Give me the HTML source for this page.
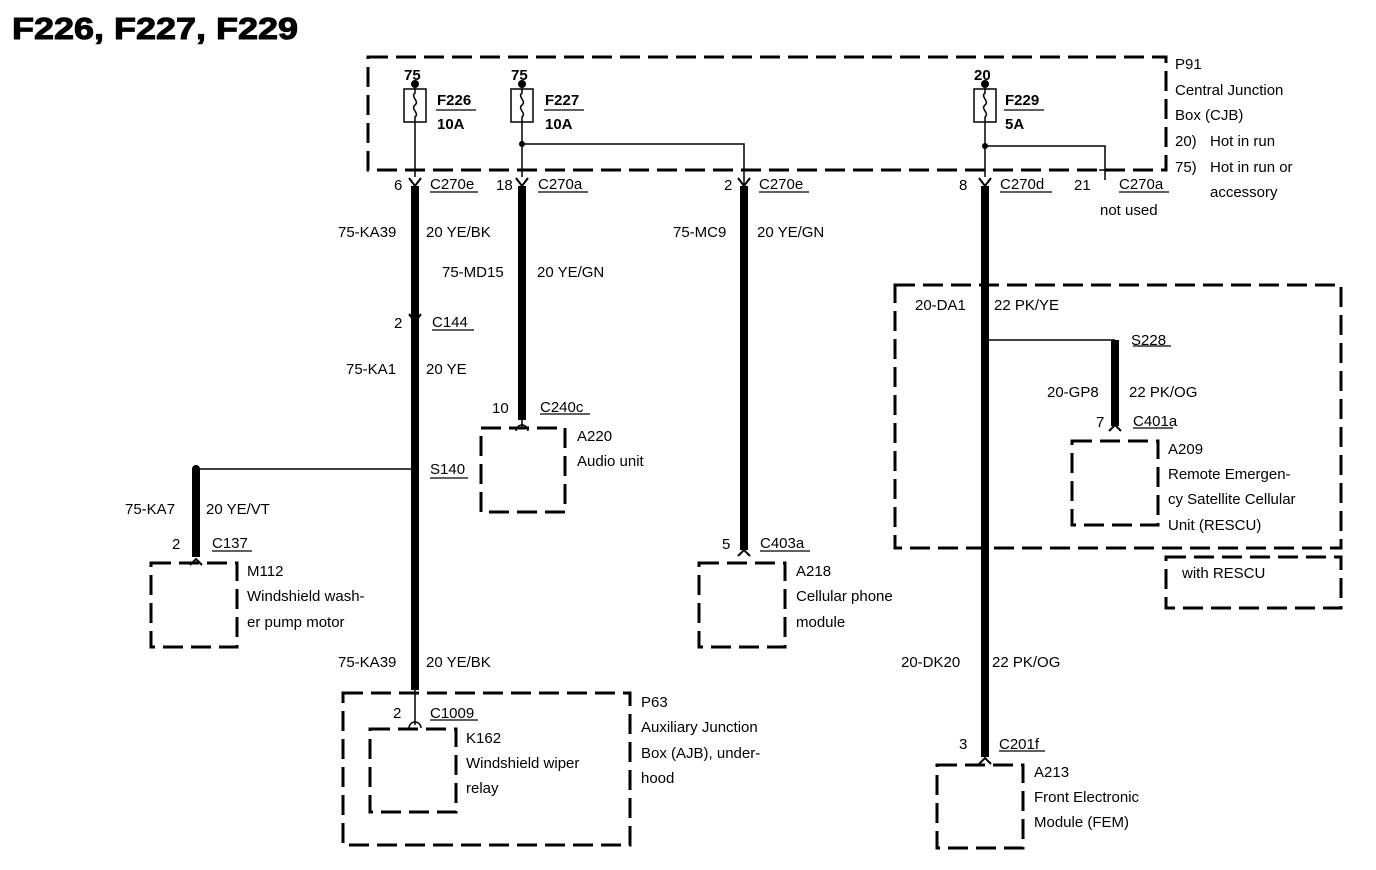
<!DOCTYPE html>
<html><head><style>body{margin:0;background:#fff}svg{display:block}text{font-family:"Liberation Sans",Arial,sans-serif;font-size:15px;fill:#000}</style></head><body>
<svg width="1376" height="870" viewBox="0 0 1376 870" xmlns="http://www.w3.org/2000/svg">
<text x="12" y="39" textLength="286" lengthAdjust="spacingAndGlyphs" style="font-size:31px;font-weight:bold;stroke:#000;stroke-width:1">F226, F227, F229</text>
<g fill="none" stroke="#000" stroke-width="3" stroke-dasharray="20,8">
<rect x="368" y="57" width="798" height="113"/>
<rect x="895" y="285" width="446" height="263"/>
<rect x="1166" y="557" width="175" height="51"/>
<rect x="343" y="693" width="287" height="152"/>
<rect x="370" y="729" width="86" height="83"/>
<rect x="481" y="428" width="84" height="84"/>
<rect x="699" y="563" width="86" height="84"/>
<rect x="151" y="563" width="86" height="84"/>
<rect x="1072" y="441" width="86" height="84"/>
<rect x="937" y="765" width="86" height="83"/>
</g>
<g stroke="#000" fill="none" stroke-width="1.5">
<rect x="404" y="89" width="22" height="33"/><rect x="511" y="89" width="22" height="33"/><rect x="974" y="89" width="22" height="33"/>
<path d="M415 85v8c-5 4 5 8 0 12s5 8 0 12v60M522 85v8c-5 4 5 8 0 12s5 8 0 12v60M985 85v8c-5 4 5 8 0 12s5 8 0 12v60"/>
<path d="M522 144H744V185M985 146H1105V180M1099 170h12"/>
<path d="M196 469H415M985 340H1115M415 690V725M522 420V428"/>
<path d="M409 728a6 6 0 0 1 12 0M516 431a6 6 0 0 1 12 0"/>
</g>
<g fill="#000">
<circle cx="415" cy="84" r="4"/><circle cx="522" cy="84" r="4"/><circle cx="985" cy="84" r="4"/>
<circle cx="522" cy="144" r="3"/><circle cx="985" cy="146" r="3"/>
<circle cx="415" cy="469" r="4"/><circle cx="196" cy="469" r="4"/><circle cx="985" cy="340" r="4"/>
</g>
<g stroke="#000" stroke-width="8">
<path d="M415 186V690M522 186V420M744 186V550M985 186V757M196 469V557M1115 340V426"/>
</g>
<g stroke="#000" stroke-width="2" fill="none">
<path d="M409 178l6 8 6-8M516 178l6 8 6-8M738 178l6 8 6-8M979 178l6 8 6-8M409 314l6 8 6-8"/>
<path d="M190 565l6-6 6 6M738 556l6-6 6 6M979 764l6-6 6 6M1109 431l6-6 6 6"/>
</g>
<g style="font-weight:bold">
<text x="404" y="80" font-size="14">75</text><text x="511" y="80" font-size="14">75</text><text x="974" y="80" font-size="14">20</text>
<text x="437" y="105">F226</text><text x="437" y="129">10A</text>
<text x="545" y="105">F227</text><text x="545" y="129">10A</text>
<text x="1005" y="105">F229</text><text x="1005" y="129">5A</text>
</g>
<g stroke="#000" stroke-width="1.3">
<path d="M436 110h40M544 110h40M1004 110h40"/>
<path d="M430 192h48M538 192h50M759 192h50M1000 192h52M1119 192h50M432 330h42M540 414h50M430 478h38M760 551h50M212 551h40M1133 346h38M1133 428h40M430 720h48M999 751h46"/>
</g>
<text x="394" y="190">6</text><text x="430" y="189">C270e</text>
<text x="496" y="190">18</text><text x="538" y="189">C270a</text>
<text x="724" y="190">2</text><text x="759" y="189">C270e</text>
<text x="959" y="190">8</text><text x="1000" y="189">C270d</text>
<text x="1074" y="190">21</text><text x="1119" y="189">C270a</text>
<text x="1100" y="215">not used</text>
<text x="1175" y="69">P91</text><text x="1175" y="95">Central Junction</text><text x="1175" y="120">Box (CJB)</text>
<text x="1175" y="146">20)</text><text x="1210" y="146">Hot in run</text><text x="1175" y="172">75)</text><text x="1210" y="172">Hot in run or</text><text x="1210" y="197">accessory</text>
<text x="338" y="237">75-KA39</text><text x="426" y="237">20 YE/BK</text>
<text x="442" y="277">75-MD15</text><text x="537" y="277">20 YE/GN</text>
<text x="673" y="237">75-MC9</text><text x="757" y="237">20 YE/GN</text>
<text x="394" y="328">2</text><text x="432" y="327">C144</text>
<text x="346" y="374">75-KA1</text><text x="426" y="374">20 YE</text>
<text x="492" y="413">10</text><text x="540" y="412">C240c</text>
<text x="577" y="441">A220</text><text x="577" y="466">Audio unit</text>
<text x="430" y="474">S140</text>
<text x="125" y="514">75-KA7</text><text x="206" y="514">20 YE/VT</text>
<text x="172" y="549">2</text><text x="212" y="548">C137</text>
<text x="247" y="576">M112</text><text x="247" y="601">Windshield wash-</text><text x="247" y="627">er pump motor</text>
<text x="722" y="549">5</text><text x="760" y="548">C403a</text>
<text x="796" y="576">A218</text><text x="796" y="601">Cellular phone</text><text x="796" y="627">module</text>
<text x="915" y="310">20-DA1</text><text x="994" y="310">22 PK/YE</text>
<text x="1131" y="345">S228</text>
<text x="1047" y="397">20-GP8</text><text x="1129" y="397">22 PK/OG</text>
<text x="1096" y="427">7</text><text x="1133" y="426">C401a</text>
<text x="1168" y="454">A209</text><text x="1168" y="479">Remote Emergen-</text><text x="1168" y="504">cy Satellite Cellular</text><text x="1168" y="530">Unit (RESCU)</text>
<text x="1182" y="578">with RESCU</text>
<text x="338" y="667">75-KA39</text><text x="426" y="667">20 YE/BK</text>
<text x="901" y="667">20-DK20</text><text x="992" y="667">22 PK/OG</text>
<text x="641" y="707">P63</text><text x="641" y="732">Auxiliary Junction</text><text x="641" y="758">Box (AJB), under-</text><text x="641" y="783">hood</text>
<text x="393" y="718">2</text><text x="430" y="718">C1009</text>
<text x="466" y="743">K162</text><text x="466" y="768">Windshield wiper</text><text x="466" y="793">relay</text>
<text x="959" y="749">3</text><text x="999" y="749">C201f</text>
<text x="1034" y="777">A213</text><text x="1034" y="802">Front Electronic</text><text x="1034" y="827">Module (FEM)</text>
</svg>
</body></html>
